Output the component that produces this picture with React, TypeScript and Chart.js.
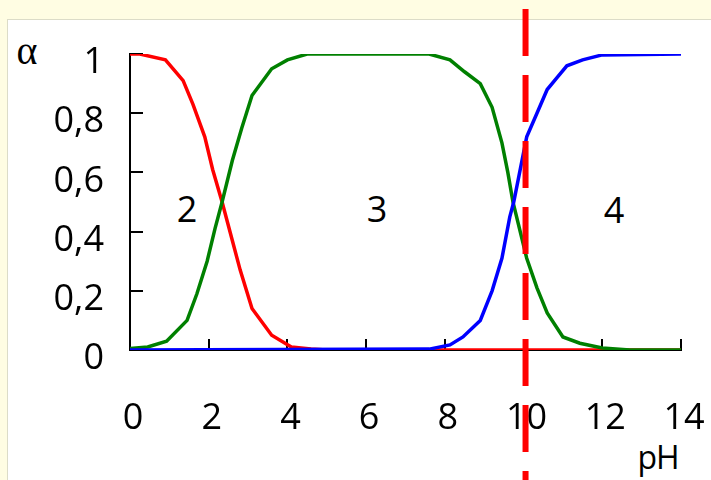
import React, { useEffect, useRef } from "react";
import { Chart, registerables } from "chart.js";

Chart.register(...registerables);

// Species 2 (red)
const redPH = [0, 0.25, 0.9, 1.35, 1.6, 1.9, 2.1, 2.34, 2.6, 2.8, 3.1, 3.6, 4.1, 4.6, 5.0, 14];
const redAlpha = [1.0, 1.0, 0.98, 0.91, 0.83, 0.72, 0.61, 0.5, 0.37, 0.27, 0.14, 0.05, 0.01, 0.003, 0, 0];

// Species 3 (green)
const greenPH = [0, 0.45, 0.93, 1.45, 1.7, 1.96, 2.16, 2.34, 2.6, 2.84, 3.1, 3.6, 4.0, 4.5, 7.6, 8.13, 8.5, 8.9, 9.2, 9.45, 9.6, 9.73, 10.08, 10.34, 10.6, 11.0, 11.43, 12.0, 12.7, 14];
const greenAlpha = [0.005, 0.01, 0.03, 0.1, 0.19, 0.3, 0.41, 0.5, 0.64, 0.75, 0.86, 0.95, 0.98, 1.0, 1.0, 0.98, 0.94, 0.9, 0.82, 0.7, 0.6, 0.5, 0.31, 0.21, 0.125, 0.044, 0.023, 0.007, 0, 0];

// Species 4 (blue)
const bluePH = [0, 7.6, 8.13, 8.46, 8.9, 9.2, 9.45, 9.65, 9.75, 10.08, 10.34, 10.6, 10.85, 11.1, 11.5, 12.0, 14];
const blueAlpha = [0, 0.003, 0.017, 0.044, 0.1, 0.2, 0.31, 0.45, 0.5, 0.72, 0.8, 0.88, 0.92, 0.96, 0.98, 0.997, 1];

// Vertical dashed marker at pH ≈ 10
const markerPH = [10.05, 10.05];
const markerAlpha = [1.152, -0.45];

const xTickLabels = ["0", "2", "4", "6", "8", "10", "12", "14"];
const yTickLabels = ["0", "0,2", "0,4", "0,6", "0,8", "1"];

const toPoints = (xs: number[], ys: number[]) => xs.map((x, i) => ({ x, y: ys[i] }));

export default function App() {
  const canvasRef = useRef<HTMLCanvasElement | null>(null);

  useEffect(() => {
    const canvas = canvasRef.current;
    if (!canvas) return;
    const chart = new Chart(canvas, {
      type: "line",
      data: {
        datasets: [
          {
            data: toPoints(markerPH, markerAlpha),
            borderColor: "#ff0000",
            borderWidth: 6,
            borderDash: [47, 19],
            pointRadius: 0,
            clip: false as any,
          },
          {
            data: toPoints(bluePH, blueAlpha),
            borderColor: "#0000ff",
            borderWidth: 3.5,
            pointRadius: 0,
          },
          {
            data: toPoints(greenPH, greenAlpha),
            borderColor: "#008000",
            borderWidth: 3.5,
            pointRadius: 0,
          },
          {
            data: toPoints(redPH, redAlpha),
            borderColor: "#ff0000",
            borderWidth: 3.5,
            pointRadius: 0,
          },
        ],
      },
      options: {
        animation: false,
        responsive: false,
        devicePixelRatio: 1,
        events: [],
        layout: { padding: { top: 54, right: 30, bottom: 0, left: 0 } },
        plugins: { legend: { display: false }, tooltip: { enabled: false } },
        scales: {
          x: {
            type: "linear",
            min: 0,
            max: 14,
            afterFit: (s: any) => {
              s.height = 130;
              s.paddingLeft = 0;
              s.paddingRight = 0;
              s.paddingTop = 0;
              s.paddingBottom = 0;
            },
            border: { display: true, color: "#000", width: 2 },
            grid: { drawOnChartArea: false, drawTicks: true, tickLength: -11, color: "#000", lineWidth: 2 },
            ticks: {
              stepSize: 2,
              autoSkip: false,
              maxRotation: 0,
              padding: 58,
              labelOffset: 3,
              color: "#000",
              font: { family: "'Open Sans', sans-serif", size: 36 },
              callback: (_v: any, i: number) => xTickLabels[i],
            },
          },
          y: {
            type: "linear",
            min: 0,
            max: 1,
            afterFit: (s: any) => {
              s.width = 130;
              s.paddingLeft = 0;
              s.paddingRight = 0;
              s.paddingTop = 0;
              s.paddingBottom = 0;
            },
            border: { display: true, color: "#000", width: 2 },
            grid: { drawOnChartArea: false, drawTicks: true, tickLength: -13, color: "#000", lineWidth: 2 },
            ticks: {
              stepSize: 0.2,
              padding: 39,
              labelOffset: 9,
              color: "#000",
              font: { family: "'Open Sans', sans-serif", size: 36 },
              callback: (_v: any, i: number) => yTickLabels[i],
            },
          },
        },
      },
    });
    return () => chart.destroy();
  }, []);

  const txt: React.CSSProperties = {
    position: "absolute",
    transform: "translate(-50%, -50%)",
    lineHeight: 1,
    color: "#000",
    whiteSpace: "nowrap",
    fontFamily: "'Open Sans', sans-serif",
    fontSize: 36,
  };

  return (
    <div style={{ position: "fixed", left: 0, top: 0, width: 711, height: 480, background: "#fffde3", overflow: "hidden" }}>
      <div
        style={{
          position: "absolute",
          left: 7,
          top: 19,
          right: 0,
          bottom: 0,
          background: "#ffffff",
          borderTop: "1px solid #dcdcc8",
          borderLeft: "1px solid #dcdcc8",
        }}
      />
      <span style={{ ...txt, left: 27, top: 51, fontFamily: "'Liberation Serif', serif", fontSize: 40 }}>α</span>
      <span style={{ ...txt, left: 187, top: 209 }}>2</span>
      <span style={{ ...txt, left: 377, top: 209 }}>3</span>
      <span style={{ ...txt, left: 614, top: 210 }}>4</span>
      <span style={{ ...txt, left: 658, top: 457, fontSize: 32, letterSpacing: -1 }}>pH</span>
      <canvas ref={canvasRef} width={711} height={480} style={{ position: "absolute", left: 0, top: 0, width: 711, height: 480 }} />
    </div>
  );
}
